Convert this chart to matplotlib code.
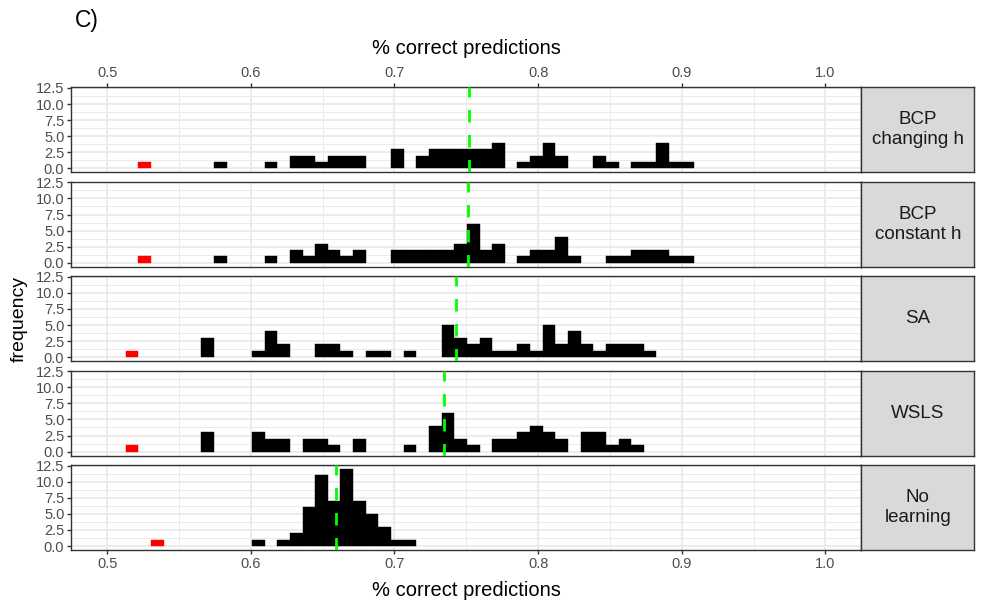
import numpy as np
import matplotlib
matplotlib.use('Agg')
import matplotlib.pyplot as plt

plt.rcParams['font.family'] = ['Liberation Sans', 'DejaVu Sans']
plt.rcParams['lines.scale_dashes'] = False

# ---------------- data ----------------
bin_width = 0.0088
bin_centers = [0.5172, 0.5260, 0.5348, 0.5436, 0.5524, 0.5612, 0.5700, 0.5788,
               0.5876, 0.5964, 0.6052, 0.6140, 0.6228, 0.6316, 0.6404, 0.6492,
               0.6580, 0.6668, 0.6756, 0.6844, 0.6932, 0.7020, 0.7108, 0.7196,
               0.7284, 0.7372, 0.7460, 0.7548, 0.7636, 0.7724, 0.7812, 0.7900,
               0.7988, 0.8076, 0.8164, 0.8252, 0.8340, 0.8428, 0.8516, 0.8604,
               0.8692, 0.8780, 0.8868, 0.8956, 0.9044]

panel_labels = ["BCP\nchanging h", "BCP\nconstant h", "SA", "WSLS", "No\nlearning"]

counts_bcp_changing = [0, 0, 0, 0, 0, 0, 0, 1, 0, 0, 0, 1, 0, 2, 2, 1, 2, 2, 2, 0, 0,
                       3, 0, 2, 3, 3, 3, 3, 3, 4, 0, 1, 2, 4, 2, 0, 0, 2, 1, 0, 1, 1,
                       4, 1, 1]
counts_bcp_constant = [0, 0, 0, 0, 0, 0, 0, 1, 0, 0, 0, 1, 0, 2, 1, 3, 2, 1, 2, 0, 0,
                       2, 2, 2, 2, 2, 3, 6, 2, 3, 0, 1, 2, 2, 4, 1, 0, 0, 1, 1, 2, 2,
                       2, 1, 1]
counts_sa = [0, 0, 0, 0, 0, 0, 3, 0, 0, 0, 1, 4, 2, 0, 0, 2, 2, 1, 0, 1, 1,
             0, 1, 0, 0, 5, 3, 2, 3, 1, 1, 2, 1, 5, 2, 4, 2, 1, 2, 2, 2, 1,
             0, 0, 0]
counts_wsls = [0, 0, 0, 0, 0, 0, 3, 0, 0, 0, 3, 2, 2, 0, 2, 2, 1, 0, 2, 0, 0,
               0, 1, 0, 4, 6, 2, 1, 0, 2, 2, 3, 4, 3, 2, 0, 3, 3, 1, 2, 1, 0,
               0, 0, 0]
counts_no_learning = [0, 0, 0, 0, 0, 0, 0, 0, 0, 0, 1, 0, 1, 2, 6, 11, 7, 12, 7, 5, 3,
                      1, 1, 0, 0, 0, 0, 0, 0, 0, 0, 0, 0, 0, 0, 0, 0, 0, 0, 0, 0, 0,
                      0, 0, 0]
all_counts = [counts_bcp_changing, counts_bcp_constant, counts_sa, counts_wsls,
              counts_no_learning]

red_centers = [0.5260, 0.5260, 0.5172, 0.5172, 0.5348]
red_counts = [1, 1, 1, 1, 1]
medians = [0.752, 0.751, 0.7427, 0.7346, 0.6591]

x_ticks = [0.5, 0.6, 0.7, 0.8, 0.9, 1.0]
x_tick_labels = ["0.5", "0.6", "0.7", "0.8", "0.9", "1.0"]
x_minor = [0.55, 0.65, 0.75, 0.85, 0.95]
y_ticks = [0, 2.5, 5, 7.5, 10, 12.5]
y_tick_labels = ["0.0", "2.5", "5.0", "7.5", "10.0", "12.5"]
y_minor = [1.25, 3.75, 6.25, 8.75, 11.25]

# ---------------- layout ----------------
W, H = 984, 605
fig = plt.figure(figsize=(W / 100, H / 100), dpi=100)


def px_rect(x0, y0, w, h):
    return [x0 / W, 1 - (y0 + h) / H, w / W, h / H]


dark = '#333333'
for i in range(5):
    top = 87.3 + 94.4 * i
    ax = fig.add_axes(px_rect(71.3, top, 790, 85))
    ax.set_xlim(0.475, 1.025)
    ax.set_ylim(-0.6, 12.6)
    ax.set_xticks(x_ticks)
    ax.set_xticklabels(x_tick_labels)
    ax.set_xticks(x_minor, minor=True)
    ax.set_yticks(y_ticks)
    ax.set_yticklabels(y_tick_labels)
    ax.set_yticks(y_minor, minor=True)
    ax.set_axisbelow(True)
    ax.grid(which='major', color='#EBEBEB', lw=1.3)
    ax.grid(which='minor', color='#EBEBEB', lw=0.7)
    ax.tick_params(which='minor', length=0)
    ax.tick_params(which='major', length=3, width=1, color=dark,
                   labelsize=10.5, labelcolor='#4D4D4D', pad=2)
    if i == 0:
        ax.tick_params(axis='x', which='major', top=True, labeltop=True,
                       bottom=False, labelbottom=False)
    elif i == 4:
        ax.tick_params(axis='x', which='major', top=False, labeltop=False,
                       bottom=True, labelbottom=True)
    else:
        ax.tick_params(axis='x', which='major', top=False, labeltop=False,
                       bottom=False, labelbottom=False)
    for s in ax.spines.values():
        s.set_color(dark)
        s.set_linewidth(1.0)

    cx = [c for c, n in zip(bin_centers, all_counts[i]) if n > 0]
    cn = [n for n in all_counts[i] if n > 0]
    ax.bar(cx, cn, width=bin_width, color='black', edgecolor='black', lw=0.3,
           zorder=2)
    ax.bar([red_centers[i]], [red_counts[i]], width=bin_width, color='red',
           edgecolor='red', lw=0.3, zorder=2)
    ax.axvline(medians[i], color='#00FF00', lw=2.0, dashes=(9, 9), zorder=5)

    sax = fig.add_axes(px_rect(861.3, top, 113, 85))
    sax.set_facecolor('#D9D9D9')
    sax.set_xticks([])
    sax.set_yticks([])
    for s in sax.spines.values():
        s.set_color(dark)
        s.set_linewidth(1.0)
    sax.text(0.5, 0.5, panel_labels[i], ha='center', va='center',
             fontsize=13.5, color='#1A1A1A', linespacing=1.25,
             transform=sax.transAxes)

fig.text(466.3 / W, 1 - 48 / H, "% correct predictions", ha='center',
         va='center', fontsize=14.5)
fig.text(466.3 / W, 1 - 590 / H, "% correct predictions", ha='center',
         va='center', fontsize=14.5)
fig.text(19 / W, 1 - 318.6 / H, "frequency", rotation=90, ha='center',
         va='center', fontsize=14)
fig.text(75 / W, 1 - 21 / H, "C)", ha='left', va='center', fontsize=16.5)

fig.savefig('out.png', dpi=100)
